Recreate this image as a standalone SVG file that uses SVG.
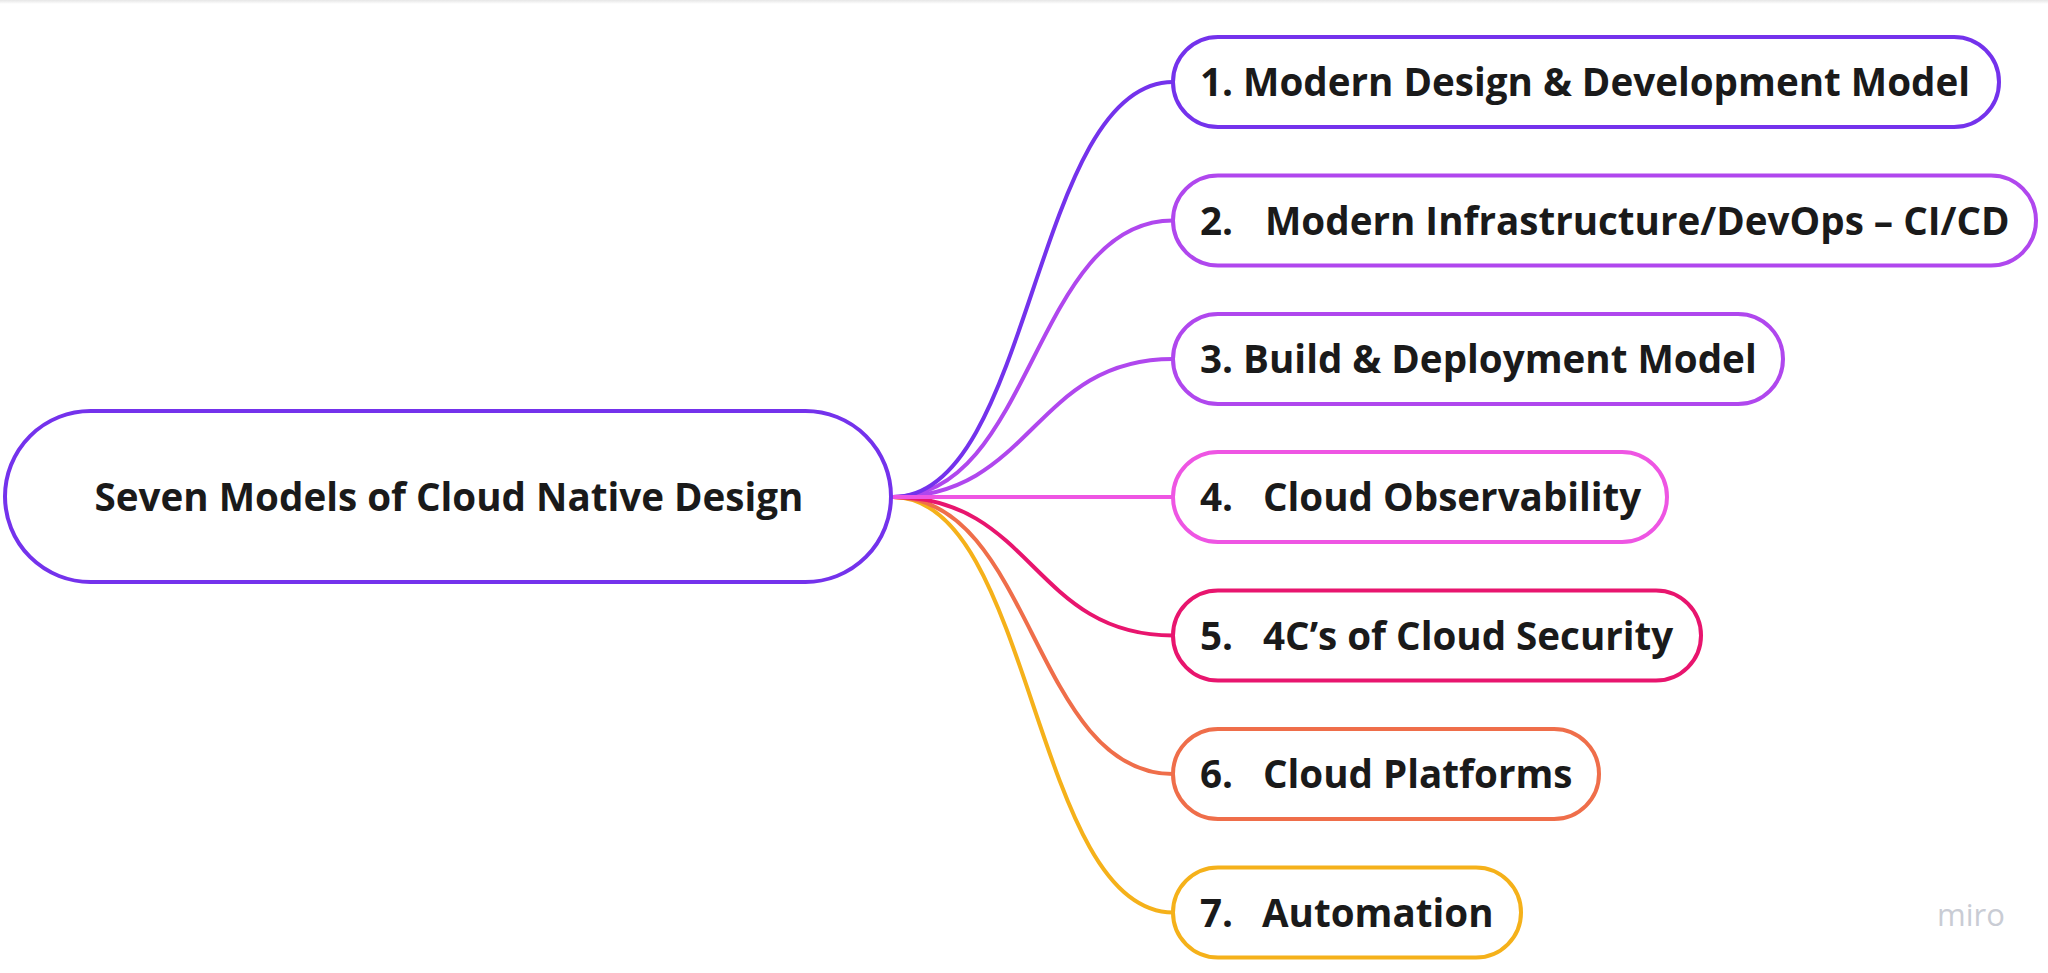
<svg xmlns="http://www.w3.org/2000/svg" width="2048" height="973" viewBox="0 0 2048 973">
  <defs>
    <linearGradient id="topShade" x1="0" y1="0" x2="0" y2="1">
      <stop offset="0" stop-color="#e6e6e6"/>
      <stop offset="1" stop-color="#ffffff"/>
    </linearGradient>
  </defs>
  <style>
    .node { fill: #ffffff; stroke-width: 4; }
    .label { font-family: "Open Sans", "Noto Sans", "Liberation Sans", sans-serif; font-weight: 700; font-size: 38.6px; fill: #1a1a1a; }
    .conn { fill: none; stroke-width: 4; stroke-linecap: round; }
    .c1 { stroke: #7432ec; }
    .c2 { stroke: #b047ee; }
    .c3 { stroke: #b047ee; }
    .c4 { stroke: #ee55e3; }
    .c5 { stroke: #e8156e; }
    .c6 { stroke: #ef6e4a; }
    .c7 { stroke: #f5b11a; }
    .logo { font-family: "Open Sans", "Noto Sans", sans-serif; font-size: 31px; fill: #c9ccd4; }
  </style>
  <rect x="0" y="0" width="2048" height="973" fill="#ffffff"/>
  <rect x="0" y="0" width="2048" height="4" fill="url(#topShade)"/>

  <g id="connectors">
    <path class="conn c7" d="M893 497 C1033 497 1033 912.5 1173 912.5"/>
    <path class="conn c6" d="M893 497 C1033 497 1033 774 1173 774"/>
    <path class="conn c5" d="M893 497 C1033 497 1033 635.5 1173 635.5"/>
    <path class="conn c3" d="M893 497 C1033 497 1033 359 1173 359"/>
    <path class="conn c2" d="M893 497 C1033 497 1033 220.5 1173 220.5"/>
    <path class="conn c1" d="M893 497 C1033 497 1033 82 1173 82"/>
    <path class="conn c4" d="M893 497 L1173 497"/>
  </g>

  <g id="root">
    <rect class="node c1" x="5" y="411" width="886" height="171" rx="85.5"/>
    <text class="label" x="449" y="511" text-anchor="middle">Seven Models of Cloud Native Design</text>
  </g>

  <g id="node1">
    <rect class="node c1" x="1173" y="37" width="826" height="90" rx="45"/>
    <text class="label" x="1200" y="96">1. Modern Design &amp; Development Model</text>
  </g>
  <g id="node2">
    <rect class="node c2" x="1173" y="175.5" width="863" height="90" rx="45"/>
    <text class="label" y="234.5"><tspan x="1200">2.</tspan><tspan x="1265">Modern Infrastructure/DevOps – CI/CD</tspan></text>
  </g>
  <g id="node3">
    <rect class="node c3" x="1173" y="314" width="610" height="90" rx="45"/>
    <text class="label" x="1200" y="373">3. Build &amp; Deployment Model</text>
  </g>
  <g id="node4">
    <rect class="node c4" x="1173" y="452" width="494" height="90" rx="45"/>
    <text class="label" y="511"><tspan x="1200">4.</tspan><tspan x="1263">Cloud Observability</tspan></text>
  </g>
  <g id="node5">
    <rect class="node c5" x="1173" y="590.5" width="528" height="90" rx="45"/>
    <text class="label" y="649.5"><tspan x="1200">5.</tspan><tspan x="1263">4C’s of Cloud Security</tspan></text>
  </g>
  <g id="node6">
    <rect class="node c6" x="1173" y="729" width="426" height="90" rx="45"/>
    <text class="label" y="788"><tspan x="1200">6.</tspan><tspan x="1263">Cloud Platforms</tspan></text>
  </g>
  <g id="node7">
    <rect class="node c7" x="1173" y="867.5" width="348" height="90" rx="45"/>
    <text class="label" y="926.5"><tspan x="1200">7.</tspan><tspan x="1262">Automation</tspan></text>
  </g>

  <text class="logo" x="1937" y="926">miro</text>
</svg>
